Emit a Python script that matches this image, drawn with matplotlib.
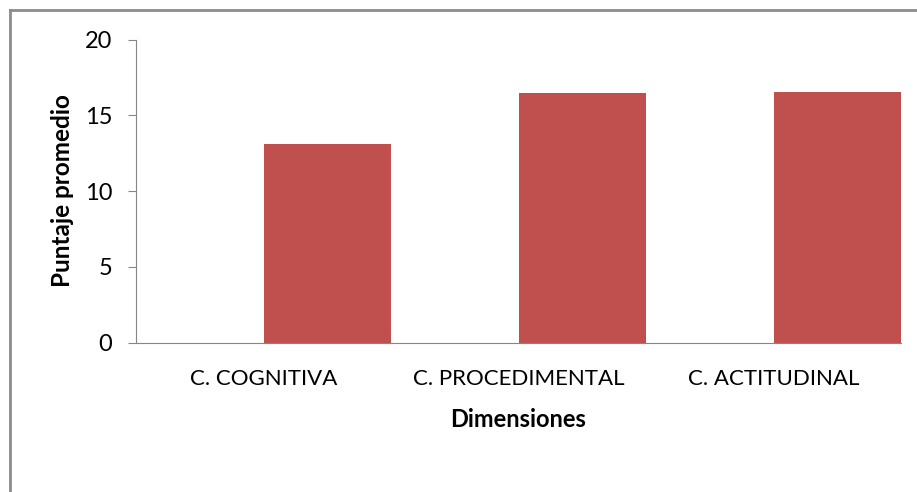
import matplotlib.pyplot as plt
from matplotlib.lines import Line2D

# Puntaje promedio por dimensión
dimensiones = ['C. COGNITIVA', 'C. PROCEDIMENTAL', 'C. ACTITUDINAL']
puntajes = [13.08, 16.47, 16.53]

plt.rcParams['font.family'] = ['Lato', 'DejaVu Sans']

fig = plt.figure(figsize=(9.17, 4.92), dpi=100)
W, H = 917, 492
ax = fig.add_axes([136 / W, 1 - 342.5 / H, (901 - 136) / W, (342.5 - 39.5) / H])

x = range(len(dimensiones))
ax.bar(x, puntajes, width=0.5, align='edge', color='#C0504D')

ax.set_xlim(-0.5, 2.5)
ax.set_ylim(0, 20)
ax.set_yticks([0, 5, 10, 15, 20])
ax.set_xticks(list(x))
ax.set_xticklabels(dimensiones, fontsize=16)
ax.tick_params(axis='y', labelsize=17, length=6, color='#868686', pad=11)
ax.tick_params(axis='x', length=0, pad=19)

for lado in ['top', 'right']:
    ax.spines[lado].set_visible(False)
for lado in ['left', 'bottom']:
    ax.spines[lado].set_color('#868686')

ax.set_xlabel('Dimensiones', fontsize=17, fontweight='bold', labelpad=14)
ax.set_ylabel('Puntaje promedio', fontsize=17.5, fontweight='bold', labelpad=8)

# marco exterior del gráfico
borde = dict(color='#8c8c8c', linewidth=2, transform=fig.transFigure)
fig.add_artist(Line2D([10 / W, 1], [1 - 10 / H, 1 - 10 / H], **borde))
fig.add_artist(Line2D([10 / W, 10 / W], [0, 1 - 10 / H], **borde))

fig.savefig('out.png', dpi=100)
